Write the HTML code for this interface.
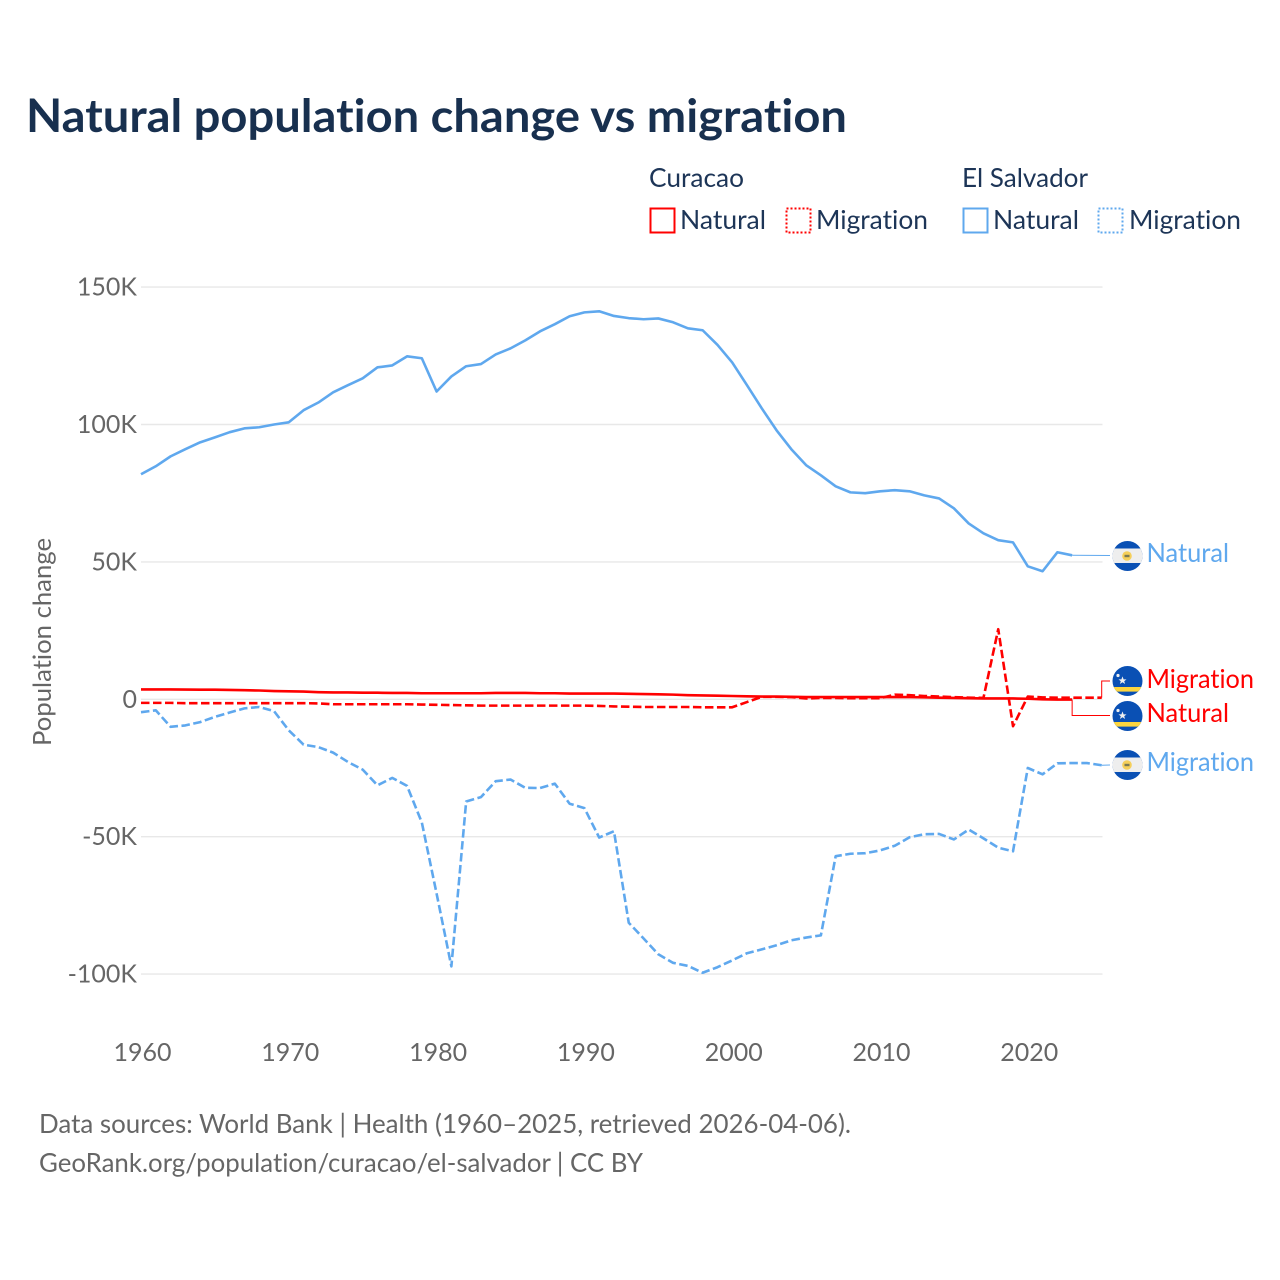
<!DOCTYPE html>
<html lang="en">
<head>
<meta charset="utf-8">
<title>Natural population change vs migration</title>
<style>
html,body{margin:0;padding:0;background:#fff;width:1280px;height:1280px;overflow:hidden}
svg{display:block}
text{font-family:"Lato","Carlito","Liberation Sans",sans-serif;font-variant-ligatures:none}
</style>
</head>
<body>
<svg id="chart" xmlns="http://www.w3.org/2000/svg" width="1280" height="1280" viewBox="0 0 1280 1280">
  <defs>
    <clipPath id="flag-clip"><circle cx="0" cy="0" r="15"/></clipPath>
    <g id="flag-cw">
      <g clip-path="url(#flag-clip)">
        <rect x="-15" y="-15" width="30" height="30" fill="#0a50b4"/>
        <rect x="-15" y="6" width="30" height="4.6" fill="#fcd53f"/>
        <polygon points="-5,-3.6 -3.9,-0.6 -1,-0.6 -3.3,1.2 -2.4,4 -5,2.3 -7.6,4 -6.7,1.2 -9,-0.6 -6.1,-0.6" fill="#f0f0f0" transform="translate(0,-1)"/>
        <circle cx="-9.5" cy="-5.5" r="1.6" fill="#f0f0f0"/>
      </g>
    </g>
    <g id="flag-sv">
      <g clip-path="url(#flag-clip)">
        <rect x="-15" y="-15" width="30" height="30" fill="#0a50b4"/>
        <rect x="-15" y="-7.5" width="30" height="14.5" fill="#eeeeee"/>
        <circle cx="-0.5" cy="0" r="4.8" fill="#f5cf5a"/>
        <rect x="-3" y="-1.2" width="5" height="2.4" fill="#7a7a55"/>
      </g>
    </g>
  </defs>

  <text x="26" y="132" font-size="46" font-weight="700" fill="#18304f" textLength="821" lengthAdjust="spacingAndGlyphs">Natural population change vs migration</text>

  <g font-size="26" fill="#1d3557">
    <text x="649" y="187" textLength="95" lengthAdjust="spacingAndGlyphs">Curacao</text>
    <text x="962" y="187" textLength="126" lengthAdjust="spacingAndGlyphs">El Salvador</text>

    <rect x="650.5" y="208.5" width="24" height="24" fill="none" stroke="#ff0000" stroke-width="2"/>
    <text x="680" y="229" textLength="86" lengthAdjust="spacingAndGlyphs">Natural</text>
    <rect x="786.5" y="208.5" width="24" height="24" fill="none" stroke="#ff0000" stroke-width="2" stroke-dasharray="2 2"/>
    <text x="816" y="229" textLength="112" lengthAdjust="spacingAndGlyphs">Migration</text>

    <rect x="963.5" y="208.5" width="24" height="24" fill="none" stroke="#5fa8ee" stroke-width="2"/>
    <text x="993" y="229" textLength="86" lengthAdjust="spacingAndGlyphs">Natural</text>
    <rect x="1098.5" y="208.5" width="24" height="24" fill="none" stroke="#5fa8ee" stroke-width="2" stroke-dasharray="2 2"/>
    <text x="1129" y="229" textLength="112" lengthAdjust="spacingAndGlyphs">Migration</text>
  </g>

  <text transform="translate(51,642) rotate(-90)" text-anchor="middle" font-size="25.5" fill="#666666" textLength="208" lengthAdjust="spacingAndGlyphs">Population change</text>

  <g id="grid"></g>
  <g id="y-ticks"></g>
  <g id="x-ticks"></g>
  <g id="connectors"></g>
  <g id="series"></g>

  <g font-size="26">
    <use href="#flag-sv" x="1127.5" y="556"/>
    <text x="1146.5" y="562" fill="#5fa8ee" textLength="82.5" lengthAdjust="spacingAndGlyphs">Natural</text>
    <use href="#flag-cw" x="1127.5" y="681"/>
    <text x="1146.5" y="688" fill="#ff0000" textLength="107.5" lengthAdjust="spacingAndGlyphs">Migration</text>
    <use href="#flag-cw" x="1127.5" y="716"/>
    <text x="1146.5" y="722" fill="#ff0000" textLength="82.5" lengthAdjust="spacingAndGlyphs">Natural</text>
    <use href="#flag-sv" x="1127.5" y="765"/>
    <text x="1146.5" y="771" fill="#5fa8ee" textLength="107.5" lengthAdjust="spacingAndGlyphs">Migration</text>
  </g>

  <g font-size="26" fill="#666666">
    <text x="39" y="1133" textLength="812" lengthAdjust="spacingAndGlyphs">Data sources: World Bank | Health (1960–2025, retrieved 2026-04-06).</text>
    <text x="39" y="1172" textLength="604" lengthAdjust="spacingAndGlyphs">GeoRank.org/population/curacao/el-salvador | CC BY</text>
  </g>
</svg>
<script>
// Values are in thousands of people; index 0 is firstYear.
const firstYear = 1960;
const xTickYears = [1960, 1970, 1980, 1990, 2000, 2010, 2020];
const yTickValues = [150, 100, 50, 0, -50, -100];
const yTickLabels = ['150K', '100K', '50K', '0', '-50K', '-100K'];
const curacaoNatural = [3.6,3.6,3.6,3.55,3.5,3.5,3.4,3.3,3.2,3.0,2.9,2.8,2.6,2.5,2.5,2.4,2.4,2.3,2.3,2.2,2.2,2.2,2.2,2.2,2.3,2.3,2.3,2.2,2.2,2.1,2.1,2.1,2.1,2.0,1.9,1.8,1.7,1.5,1.4,1.3,1.2,1.1,1.0,1.0,0.9,0.8,0.8,0.8,0.8,0.8,0.8,0.8,0.8,0.7,0.6,0.5,0.4,0.3,0.3,0.3,0.2,0,-0.1,-0.1];
const curacaoMigration = [-1.3,-1.3,-1.3,-1.4,-1.4,-1.4,-1.4,-1.4,-1.4,-1.4,-1.4,-1.4,-1.5,-1.8,-1.8,-1.8,-1.8,-1.8,-1.8,-1.9,-2,-2.1,-2.2,-2.3,-2.3,-2.3,-2.3,-2.3,-2.3,-2.3,-2.3,-2.4,-2.6,-2.7,-2.8,-2.8,-2.8,-2.8,-2.9,-2.9,-2.9,-1,0.9,0.9,0.8,0.3,0.5,0.5,0.4,0.4,0.4,1.7,1.5,1.2,1,0.8,0.6,0.5,25.5,-9.8,1,0.7,0.6,0.6,0.6,0.6];
const elSalvadorNatural = [81.9,84.8,88.4,91,93.5,95.3,97.2,98.6,99,100,100.8,105.2,108,111.7,114.3,116.8,120.8,121.5,124.8,124.1,112,117.5,121.2,122,125.5,127.7,130.6,133.9,136.5,139.4,140.8,141.2,139.5,138.7,138.3,138.6,137.2,135,134.3,129,122.6,114.3,105.9,97.9,91,85.2,81.5,77.5,75.3,75,75.7,76.1,75.7,74.2,73.1,69.5,64,60.4,57.9,57.1,48.4,46.6,53.5,52.4];
const elSalvadorMigration = [-4.7,-4,-10,-9.5,-8.3,-6.4,-4.8,-3.3,-2.8,-4.3,-11.3,-16.5,-17.4,-19.4,-22.8,-25.6,-31.3,-28.6,-31.5,-44.8,-70.7,-97.2,-37.2,-35.6,-29.8,-29.2,-32.2,-32.3,-30.7,-38,-39.6,-50.3,-48,-81.3,-87,-92.8,-95.9,-97,-99.5,-97.5,-95,-92.4,-91,-89.5,-87.7,-86.7,-85.9,-57.1,-56.2,-56,-55,-53.3,-50.2,-49.1,-49,-51,-47.4,-50.6,-54,-55.3,-25,-27.3,-23.3,-23.2,-23.2,-24];

const NS = 'http://www.w3.org/2000/svg';
const xScale = function (year) { return 141 + (year - 1960) * 14.78; };
const yScale = function (value) { return 699.3 - value * 2.748; };
const plotLeft = 141;
const plotRight = 1102.5;

function make(tag, parent, attrs) {
  const el = document.createElementNS(NS, tag);
  Object.keys(attrs).forEach(function (k) { el.setAttribute(k, attrs[k]); });
  parent.appendChild(el);
  return el;
}

const gridGroup = document.getElementById('grid');
const yTickGroup = document.getElementById('y-ticks');
yTickValues.forEach(function (v, i) {
  const line = make('line', gridGroup, { x1: plotLeft, x2: plotRight, y1: yScale(v), y2: yScale(v), stroke: '#e8e8e8', 'stroke-width': 1.4 });
  
  
  const label = make('text', yTickGroup, { x: 137, y: yScale(v) + 8.5, 'text-anchor': 'end', 'font-size': 25, fill: '#666666' });
  label.textContent = yTickLabels[i];
  
  
});

const xTickGroup = document.getElementById('x-ticks');
xTickYears.forEach(function (year) {
  const label = make('text', xTickGroup, { x: xScale(year) + 1.5, y: 1061, 'text-anchor': 'middle', 'font-size': 25, fill: '#666666' });
  label.textContent = String(year);
  
  
});

function drawSeries(values, color, dashed, name) {
  const pts = values.map(function (v, i) {
    return xScale(firstYear + i).toFixed(2) + ',' + yScale(v).toFixed(2);
  }).join(' ');
  const line = make('polyline', document.getElementById('series'), {
    points: pts, fill: 'none', stroke: color, 'stroke-width': 2.6, 'stroke-linejoin': 'round'
  });
  if (dashed) line.setAttribute('stroke-dasharray', '8.5 3.5');
  
  
}

function drawConnector(values, flagY, color, name) {
  const lastX = xScale(firstYear + values.length - 1);
  const lastY = yScale(values[values.length - 1]);
  const pts = Math.abs(lastY - flagY) < 1.5
    ? lastX + ',' + lastY + ' 1110,' + flagY
    : lastX + ',' + lastY + ' ' + lastX + ',' + flagY + ' 1110,' + flagY;
  const line = make('polyline', document.getElementById('connectors'), {
    points: pts, fill: 'none', stroke: color, 'stroke-width': 1
  });
  
  
}

drawConnector(elSalvadorNatural, 555.5, '#5fa8ee', 'connector-el-salvador-natural');
drawConnector(curacaoMigration, 681, '#ff0000', 'connector-curacao-migration');
drawConnector(curacaoNatural, 715.5, '#ff0000', 'connector-curacao-natural');
drawConnector(elSalvadorMigration, 765, '#5fa8ee', 'connector-el-salvador-migration');

drawSeries(elSalvadorNatural, '#5fa8ee', false, 'line-el-salvador-natural');
drawSeries(elSalvadorMigration, '#5fa8ee', true, 'line-el-salvador-migration');
drawSeries(curacaoNatural, '#ff0000', false, 'line-curacao-natural');
drawSeries(curacaoMigration, '#ff0000', true, 'line-curacao-migration');
</script>
</body>
</html>
